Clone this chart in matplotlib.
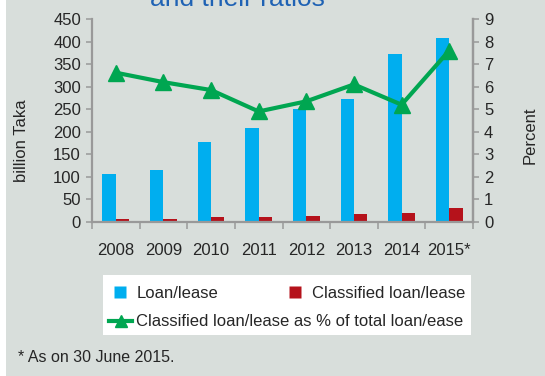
import numpy as np
import matplotlib
matplotlib.use('Agg')
import matplotlib.pyplot as plt
from matplotlib.patches import Rectangle
from matplotlib.lines import Line2D

plt.rcParams['font.family'] = ['Liberation Sans', 'DejaVu Sans']

years = ['2008', '2009', '2010', '2011', '2012', '2013', '2014', '2015*']
loan = [106, 116, 177, 209, 251, 272, 372, 407]
classified = [7, 7, 11, 10, 13, 17, 19, 30]
ratio = [6.62, 6.2, 5.85, 4.9, 5.35, 6.1, 5.2, 7.6]

bg = '#d8dedb'
axis_col = '#999999'
text_col = '#262626'
c_loan = '#00aeef'
c_cls = '#b5121b'
c_line = '#00a651'

fig = plt.figure(figsize=(5.45, 3.76), dpi=100, facecolor=bg)
fig.add_artist(Rectangle((0, 0), 6 / 545, 1, transform=fig.transFigure,
                         facecolor='white', edgecolor='none', zorder=0))

ax = fig.add_axes([92 / 545, 1 - 222 / 376, 381 / 545, 203 / 376])
ax.set_facecolor(bg)
x = np.arange(len(years))
w = 0.28
ax.bar(x - w / 2, loan, w, color=c_loan, zorder=2)
ax.bar(x + w / 2, classified, w, color=c_cls, zorder=2)
ax.set_xlim(-0.5, len(years) - 0.5)
ax.set_ylim(0, 450)
ax.set_yticks(np.arange(0, 451, 50))
ax.set_xticks(x)
ax.set_xticklabels(years)
ax.set_xticks(np.arange(-0.5, len(years)), minor=True)
ax.tick_params(axis='x', which='major', length=0, pad=15, labelsize=12, labelcolor=text_col)
ax.tick_params(axis='x', which='minor', length=5, width=1.1, color=axis_col)
ax.tick_params(axis='y', length=4, width=1.1, color=axis_col, labelsize=12,
               labelcolor=text_col, pad=4)
ax.spines['top'].set_visible(False)
for s in ['left', 'bottom', 'right']:
    ax.spines[s].set_color(axis_col)
    ax.spines[s].set_linewidth(1.6)

ax2 = ax.twinx()
ax2.plot(x, ratio, color=c_line, lw=3, marker='^', ms=11.5, zorder=3)
ax2.set_ylim(0, 9)
ax2.set_yticks(np.arange(0, 10, 1))
ax2.tick_params(axis='y', length=4, width=1.1, color=axis_col, labelsize=12,
                labelcolor=text_col, pad=4)
for s in ['top', 'left', 'bottom']:
    ax2.spines[s].set_visible(False)
ax2.spines['right'].set_color(axis_col)
ax2.spines['right'].set_linewidth(1.6)

fig.text(22 / 545, 1 - 141 / 376, 'billion Taka', rotation=90, ha='center', va='center',
         fontsize=12, color=text_col)
fig.text(530 / 545, 1 - 135 / 376, 'Percent', rotation=90, ha='center', va='center',
         fontsize=12, color=text_col)

# title runs off the top edge, as in the source
fig.text(237 / 545, 1 - 6 / 376, 'and their ratios', ha='center', va='baseline',
         fontsize=19, color='#1f62b4')

# legend box
fig.add_artist(Rectangle((103 / 545, 1 - 335 / 376), 368 / 545, 60 / 376,
                         transform=fig.transFigure, facecolor='white',
                         edgecolor='none', zorder=1))
h_loan = Line2D([], [], ls='none', marker='s', ms=8, mfc=c_loan, mec='none')
h_cls = Line2D([], [], ls='none', marker='s', ms=8, mfc=c_cls, mec='none')
h_line = Line2D([], [], color=c_line, lw=3, marker='^', ms=9)
leg1 = fig.legend([h_loan, h_cls], ['Loan/lease', 'Classified loan/lease'], ncol=2,
                  loc='center left', bbox_to_anchor=(112 / 545, 1 - 293 / 376),
                  frameon=False, fontsize=12, handlelength=1.0, handletextpad=0.5,
                  columnspacing=4.1, borderpad=0, borderaxespad=0)
leg2 = fig.legend([h_line], ['Classified loan/lease as % of total loan/ease'],
                  loc='center left', bbox_to_anchor=(109 / 545, 1 - 322 / 376),
                  frameon=False, fontsize=12, handlelength=1.4, handletextpad=0.2,
                  borderpad=0, borderaxespad=0)
for leg in (leg1, leg2):
    leg.set_zorder(2)
    for t in leg.get_texts():
        t.set_color(text_col)

fig.text(18 / 545, 1 - 357 / 376, '* As on 30 June 2015.', ha='left', va='center',
         fontsize=11.5, color=text_col)

fig.savefig('out.png', dpi=100, facecolor=bg)
